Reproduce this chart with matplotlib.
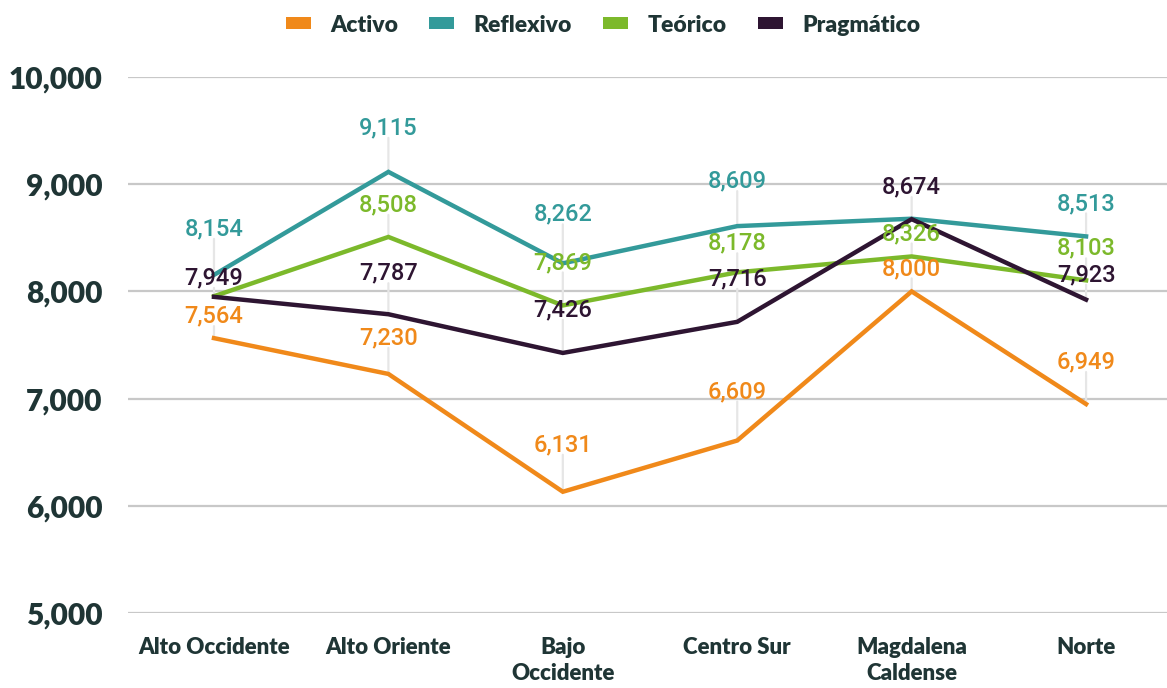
import matplotlib
matplotlib.use("Agg")
import matplotlib.pyplot as plt
from matplotlib.patches import Patch
from matplotlib.ticker import FuncFormatter

# data
regiones = ["Alto Occidente", "Alto Oriente", "Bajo\nOccidente", "Centro Sur",
            "Magdalena\nCaldense", "Norte"]
activo = [7564, 7230, 6131, 6609, 8000, 6949]
reflexivo = [8154, 9115, 8262, 8609, 8678, 8513]
teorico = [7955, 8508, 7869, 8178, 8326, 8103]
pragmatico = [7949, 7787, 7426, 7716, 8674, 7923]
nombres = ["Activo", "Reflexivo", "Teórico", "Pragmático"]
colores = ["#F0891A", "#339A9A", "#7CB92B", "#2E1532"]

# label offsets above the point, in pixels (None = label hidden in the original)
offsets = [
    [22, 36, 47, 49, 23, 42],
    [46, 44, 49, 45, None, 33],
    [None, 32, 43, 29, 23, 32],
    [19, 41, 43, 43, 32, 25],
]

texto = "#1F3535"
fig = plt.figure(figsize=(11.67, 6.88), dpi=100)
ax = fig.add_axes([128 / 1167, 1 - 613 / 688, 1 - 128 / 1167, (613 - 77) / 688])

x = list(range(len(regiones)))
series = [activo, reflexivo, teorico, pragmatico]

# leader lines behind everything
for vals, offs in zip(series, offsets):
    for xi, v, off in zip(x, vals, offs):
        if off is None:
            continue
        ax.annotate("", xy=(xi, v), xytext=(0, off - 10), textcoords="offset pixels",
                    arrowprops=dict(arrowstyle="-", color="#E6E6E6", lw=1.6,
                                    shrinkA=0, shrinkB=0), zorder=1)

for vals, c, n in zip(series, colores, nombres):
    ax.plot(x, vals, color=c, lw=3.2, zorder=3, label=n, solid_joinstyle="miter")

for vals, c, offs in zip(series, colores, offsets):
    for xi, v, off in zip(x, vals, offs):
        if off is None:
            continue
        ax.annotate(f"{v:,}", xy=(xi, v), xytext=(0, off), textcoords="offset pixels",
                    ha="center", va="center", color=c, fontsize=17,
                    family="Roboto", fontweight=500, zorder=4)

ax.set_ylim(5000, 10000)
ax.set_xlim(-0.493, 5.464)
ax.set_yticks(range(5000, 10001, 1000))
ax.yaxis.set_major_formatter(FuncFormatter(lambda v, p: f"{int(v):,}"))
ax.set_xticks(x)
ax.set_xticklabels(regiones)
ax.grid(axis="y", color="#C8C8C8", lw=1.6, zorder=0)
ax.set_axisbelow(True)
for s in ax.spines.values():
    s.set_visible(False)
ax.tick_params(axis="both", length=0)
ax.tick_params(axis="y", pad=18.5, labelsize=21.5, labelcolor=texto)
ax.tick_params(axis="x", pad=17, labelsize=16, labelcolor=texto)
for t in ax.get_yticklabels():
    t.set_family("Lato")
    t.set_fontweight("heavy")
for t in ax.get_xticklabels():
    t.set_family("Lato")
    t.set_fontweight("heavy")
    t.set_linespacing(1.3)
    t.set_va("top")

handles = [Patch(facecolor=c, edgecolor="none", label=n) for c, n in zip(colores, nombres)]
leg = fig.legend(handles=handles, loc="center", bbox_to_anchor=(603 / 1167, 1 - 25 / 688),
                 ncol=4, frameon=False, handlelength=1.09, handleheight=0.45,
                 handletextpad=0.85, columnspacing=1.35,
                 prop=dict(family="Lato", weight="heavy", size=16.5))
for t in leg.get_texts():
    t.set_color(texto)

fig.savefig("out.png", dpi=100)
